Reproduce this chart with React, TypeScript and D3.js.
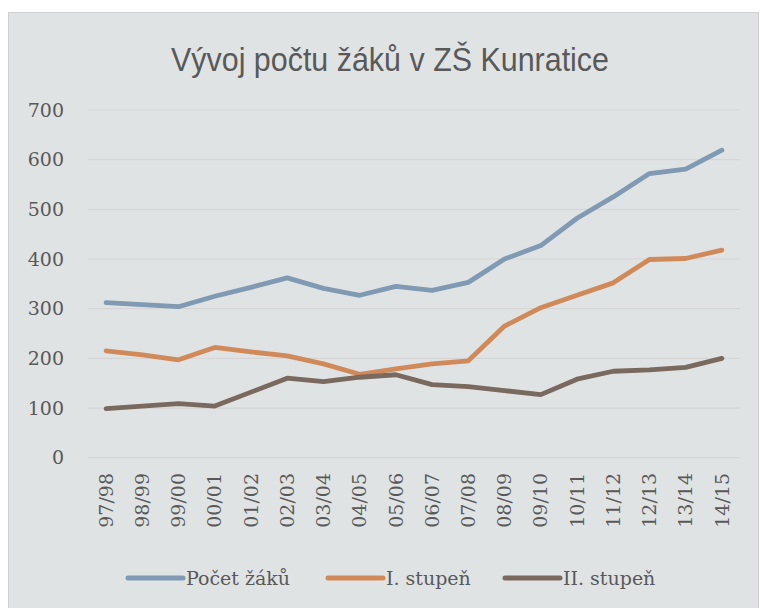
import React from "react";
import * as d3 from "d3";

const categories = ["97/98","98/99","99/00","00/01","01/02","02/03","03/04","04/05","05/06","06/07","07/08","08/09","09/10","10/11","11/12","12/13","13/14","14/15"];
const pocetZaku = [312,308,304,325,343,362,341,327,345,337,353,400,427,482,525,572,581,619];
const stupen1 = [215,207,197,222,213,205,189,168,179,189,195,265,302,327,352,399,401,418];
const stupen2 = [99,104,109,104,132,160,153,162,167,147,143,135,127,158,174,177,182,200];
const yTicks = [0,100,200,300,400,500,600,700];
const seriesNames = ["Počet žáků","I. stupeň","II. stupeň"];
const seriesColors = ["#7f9ab2","#d08a5a","#7a695e"];

export default function App() {
  const W = 760, H = 608;
  const x = d3.scalePoint<string>().domain(categories).range([88, 740]).padding(0.5);
  const y = d3.scaleLinear().domain([0, 700]).range([457.7, 110]);
  const line = d3.line<number>().x((_, i) => x(categories[i]) as number).y(d => y(d));
  const series = [pocetZaku, stupen1, stupen2];
  const textColor = "#595959";
  const serif = "'DejaVu Serif', serif";
  const legendX = [128, 328, 505];
  return (
    <svg width={W} height={H} style={{ position: "absolute", left: 0, top: 0 }}>
      <rect x={8.5} y={12.5} width={750} height={600} fill="#e0e3e4" stroke="#d0d0d0" strokeWidth={1} />
      <text x={390} y={71} textAnchor="middle" fontFamily="'Liberation Sans Narrow', 'Arial Narrow', 'Liberation Sans', sans-serif" fontSize={34} fill={textColor} textLength={438} lengthAdjust="spacingAndGlyphs">Vývoj počtu žáků v ZŠ Kunratice</text>
      {yTicks.map(t => (
        <g key={t}>
          <line x1={88} x2={740} y1={y(t)} y2={y(t)} stroke="#d5d5d5" strokeWidth={1.2} />
          <text x={64} y={y(t)} dy="0.35em" textAnchor="end" fontFamily={serif} fontSize={19} fill={textColor}>{t}</text>
        </g>
      ))}
      {categories.map(c => (
        <text key={c} transform={`translate(${x(c)},473) rotate(-90)`} dy="0.35em" textAnchor="end" fontFamily={serif} fontSize={19} fill={textColor}>{c}</text>
      ))}
      {series.map((s, i) => (
        <path key={i} d={line(s) || ""} fill="none" stroke={seriesColors[i]} strokeWidth={4.8} strokeLinecap="round" strokeLinejoin="round" />
      ))}
      {seriesNames.map((n, i) => (
        <g key={n}>
          <line x1={legendX[i]} x2={legendX[i] + 55} y1={578} y2={578} stroke={seriesColors[i]} strokeWidth={5} strokeLinecap="round" />
          <text x={legendX[i] + 58} y={578} dy="0.35em" fontFamily={serif} fontSize={19} fill={textColor}>{n}</text>
        </g>
      ))}
    </svg>
  );
}
